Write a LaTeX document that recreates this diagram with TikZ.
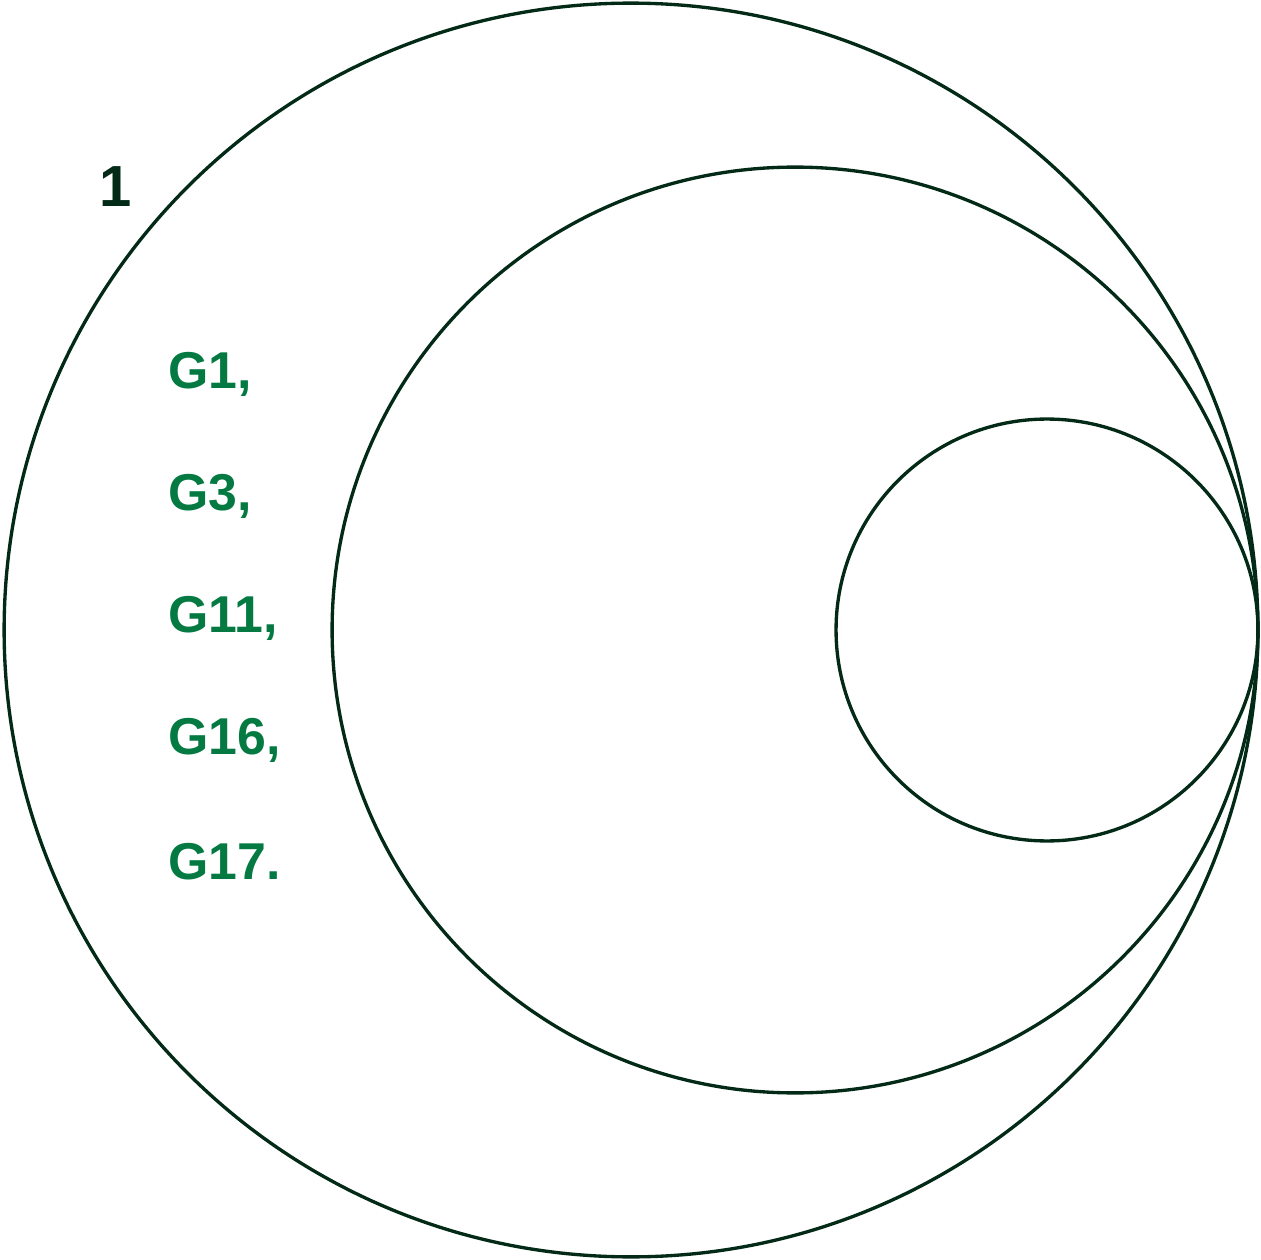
\documentclass[tikz,border=0pt]{standalone}
\usepackage{fontspec}
\setmainfont{Liberation Sans}
\usepackage{xcolor}
\usetikzlibrary{positioning}
\definecolor{ringline}{HTML}{022A17}
\definecolor{labgreen}{HTML}{047A42}

\begin{document}
\begin{tikzpicture}[x=0.02cm, y=-0.02cm,
  ring/.style={draw=ringline, line width=1.9pt, circle, inner sep=0pt},
  glabel/.style={inner sep=0pt, text=labgreen, font=\fontsize{29.5}{31}\selectfont\bfseries}]

\useasboundingbox (0,0) rectangle (1261,1260);

% ---- Nested circles, all touching at the right ----
\node[ring, minimum size=25.08cm] (outer) at (631,630) {};
\node[ring, minimum size=18.52cm] (middle) at (795,630) {};
\node[ring, minimum size=8.44cm] (inner) at (1047,630) {};

% ---- Set number ----
\node[text=ringline, font=\fontsize{33}{35}\selectfont\bfseries] (setno) at (116,187) {1};

% ---- Members ----
\node[glabel, anchor=west] (g1) at (168,374) {G1,};
\node[glabel, below=2.44cm of g1.west, anchor=west] (g3) {G3,};
\node[glabel, below=2.44cm of g3.west, anchor=west] (g11) {G11,};
\node[glabel, below=2.44cm of g11.west, anchor=west] (g16) {G16,};
\node[glabel, below=2.44cm of g16.west, anchor=west] (g17) {G17.};

\end{tikzpicture}
\end{document}
